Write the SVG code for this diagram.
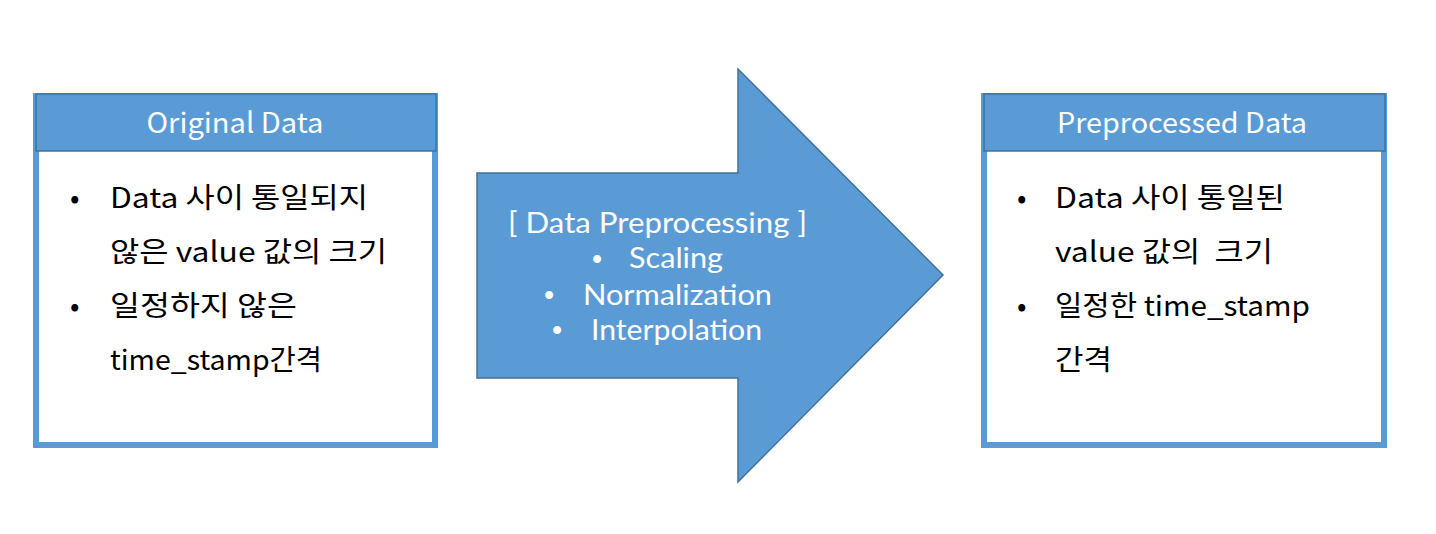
<svg xmlns="http://www.w3.org/2000/svg" width="1436" height="534" viewBox="0 0 1436 534">
<style>
.box{fill:#ffffff;stroke:#5b9bd5;stroke-width:6}
.hdr{fill:#5b9bd5;stroke:#41719c;stroke-width:1.5}
.arrow{fill:#5b9bd5;stroke:#41719c;stroke-width:1.5}
text{font-family:"Noto Sans CJK KR","Noto Sans",sans-serif;font-size:28px}
.ht{fill:#ffffff;text-anchor:middle}
.bt{fill:#000000}
.wt{fill:#ffffff;font-family:Lato,"Noto Sans",sans-serif;font-size:29px}
.wb{fill:#ffffff;font-family:Lato,"Noto Sans",sans-serif;font-size:21px;text-anchor:middle}
</style>
<rect width="1436" height="534" fill="#ffffff"/>
<g id="original-data">
<rect class="box" x="36" y="96" width="399" height="349"/>
<rect class="hdr" x="36" y="94" width="400" height="57"/>
<text class="ht" x="235" y="133" textLength="177" lengthAdjust="spacingAndGlyphs">Original Data</text>
<text class="bt" x="70" y="208">•</text>
<text class="bt" x="110" y="208" textLength="258" lengthAdjust="spacingAndGlyphs">Data 사이 통일되지</text>
<text class="bt" x="110" y="262" textLength="277" lengthAdjust="spacingAndGlyphs">않은 value 값의 크기</text>
<text class="bt" x="70" y="316">•</text>
<text class="bt" x="110" y="316" textLength="187" lengthAdjust="spacingAndGlyphs">일정하지 않은</text>
<text class="bt" x="110" y="370" textLength="212" lengthAdjust="spacingAndGlyphs">time_stamp간격</text>
</g>
<g id="connectors">
<g id="data-preprocessing">
<polygon class="arrow" points="477,173 738,173 738,69 943,275 738,482 738,378 477,378"/>
<text class="wt" x="508" y="233" textLength="299" lengthAdjust="spacingAndGlyphs">[ Data Preprocessing ]</text>
<text class="wb" x="597" y="266">•</text>
<text class="wt" x="629" y="268" textLength="94" lengthAdjust="spacingAndGlyphs">Scaling</text>
<text class="wb" x="549" y="302">•</text>
<text class="wt" x="583" y="305" textLength="189" lengthAdjust="spacingAndGlyphs">Normalization</text>
<text class="wb" x="557" y="337">•</text>
<text class="wt" x="591" y="340" textLength="171" lengthAdjust="spacingAndGlyphs">Interpolation</text>
</g>
</g>
<g id="preprocessed-data">
<rect class="box" x="984" y="96" width="400" height="349"/>
<rect class="hdr" x="984" y="94" width="401" height="57"/>
<text class="ht" x="1182" y="133" textLength="250" lengthAdjust="spacingAndGlyphs">Preprocessed Data</text>
<text class="bt" x="1017" y="208">•</text>
<text class="bt" x="1055" y="208" textLength="230" lengthAdjust="spacingAndGlyphs">Data 사이 통일된</text>
<text class="bt" x="1055" y="262" textLength="218" lengthAdjust="spacingAndGlyphs" xml:space="preserve">value 값의  크기</text>
<text class="bt" x="1017" y="316">•</text>
<text class="bt" x="1055" y="316" textLength="255" lengthAdjust="spacingAndGlyphs">일정한 time_stamp</text>
<text class="bt" x="1055" y="370" textLength="57" lengthAdjust="spacingAndGlyphs">간격</text>
</g>
</svg>
